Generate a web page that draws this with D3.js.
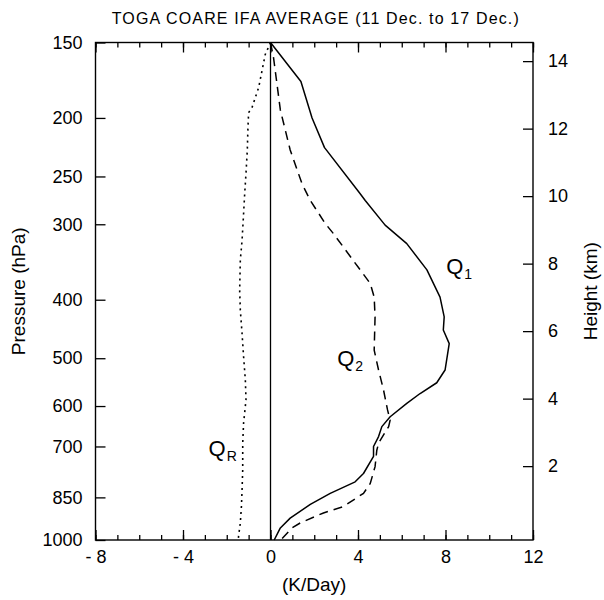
<!DOCTYPE html>
<html>
<head>
<meta charset="utf-8">
<script src="https://cdn.jsdelivr.net/npm/d3@7"></script>
<style>
  body { margin: 0; background: #fff; }
  svg { display: block; }
  text { font-family: "Liberation Sans", Arial, Helvetica, sans-serif; fill: #000; }
</style>
</head>
<body>
<svg id="chart" width="604" height="600"></svg>
<script>
// Axis tick values
const pressureTicks = [150, 200, 250, 300, 400, 500, 600, 700, 850, 1000];
const heightTicks = [2, 4, 6, 8, 10, 12, 14];
const rateTicks = [-8, -4, 0, 4, 8, 12];
const rateMinorTicks = d3.range(-8, 13, 1);

// Q1: apparent heat source (K/day) against pressure (hPa)
const q1Pressure = [150, 174, 200, 224, 267, 274, 301, 323, 357, 396, 427, 449, 473, 523, 549, 572, 594, 625, 649, 674, 700, 727, 776, 801, 837, 873, 920, 955, 1000];
const q1Rate     = [0, 1.39, 1.9, 2.47, 4.1, 4.33, 5.24, 6.23, 7.15, 7.75, 7.94, 7.9, 8.17, 7.98, 7.6, 6.84, 6.23, 5.47, 5.09, 4.94, 4.71, 4.71, 4.25, 3.87, 2.73, 1.82, 0.9, 0.45, 0.17];

// Q2: apparent moisture sink (K/day)
const q2Pressure = [150, 159, 194, 226, 257, 274, 299, 311, 357, 376, 396, 427, 485, 523, 565, 609, 633, 649, 690, 710, 756, 806, 837, 880, 902, 937, 955, 1000];
const q2Rate     = [0, 0.14, 0.45, 0.9, 1.44, 1.82, 2.5, 2.88, 4.1, 4.56, 4.74, 4.78, 4.74, 4.94, 5.17, 5.35, 5.47, 5.4, 4.95, 4.86, 4.78, 4.56, 4.25, 3.34, 2.42, 1.36, 0.98, 0.47];

// QR: radiative heating (K/day)
const qrPressure = [150, 157, 178, 192, 196, 207, 226, 247, 267, 288, 319, 344, 386, 416, 455, 497, 543, 586, 640, 691, 765, 826, 881, 937, 986, 995];
const qrRate     = [0, -0.24, -0.54, -0.84, -1.0, -1.03, -1.06, -1.12, -1.18, -1.23, -1.3, -1.38, -1.41, -1.38, -1.3, -1.23, -1.15, -1.12, -1.23, -1.27, -1.27, -1.3, -1.33, -1.38, -1.46, -1.47];

// Curve labels: name, subscript, anchor rate (K/day), anchor pressure (hPa)
const labelNames = ["Q", "Q", "Q"];
const labelSubs = ["1", "2", "R"];
const labelRate = [8.03, 3.05, -2.83];
const labelPressure = [362, 515, 726];

// Scale-height conversion for the right-hand height axis
const scaleHeightKm = 7.77;
const surfacePressure = 976;

const svg = d3.select("#chart");
const margin = { left: 95.5, right: 533, top: 42.5, bottom: 540 };

const x = d3.scaleLinear().domain([-8, 12]).range([margin.left, margin.right]);
const y = d3.scaleLog().domain([150, 1000]).range([margin.top, margin.bottom]);
const zOf = p => scaleHeightKm * Math.log(surfacePressure / p);
const yHeight = d3.scaleLinear().domain([zOf(1000), zOf(150)]).range([margin.bottom, margin.top]);

const axisStyle = g => {
  g.select(".domain").remove();
  g.selectAll(".tick line").attr("stroke", "#000").attr("stroke-width", 1.3);
  g.selectAll(".tick text").attr("font-size", 18).attr("fill", "#000")
    .attr("font-family", '"Liberation Sans", Arial, sans-serif');
};

// Bottom axis: minor ticks every unit, longer labelled ticks every 4
svg.append("g").attr("transform", `translate(0,${margin.bottom})`)
  .call(d3.axisBottom(x).tickValues(rateMinorTicks).tickSize(-5).tickFormat(""))
  .call(axisStyle);
svg.append("g").attr("transform", `translate(0,${margin.bottom})`)
  .call(d3.axisBottom(x).tickValues(rateTicks).tickSizeInner(-10).tickSizeOuter(0).tickPadding(10)
    .tickFormat(d => d < 0 ? "- " + Math.abs(d) : String(d)))
  .call(axisStyle)
  .call(g => g.selectAll(".tick text").attr("dy", "0.71em"));

// Top axis mirrors the bottom ticks
svg.append("g").attr("transform", `translate(0,${margin.top})`)
  .call(d3.axisTop(x).tickValues(rateMinorTicks).tickSize(-5).tickFormat(""))
  .call(axisStyle);
svg.append("g").attr("transform", `translate(0,${margin.top})`)
  .call(d3.axisTop(x).tickValues(rateTicks).tickSize(-10).tickFormat(""))
  .call(axisStyle);

// Left pressure axis
svg.append("g").attr("transform", `translate(${margin.left},0)`)
  .call(d3.axisLeft(y).tickValues(pressureTicks).tickSizeInner(-10).tickSizeOuter(0).tickPadding(13)
    .tickFormat(d3.format("d")))
  .call(axisStyle);

// Right height axis
svg.append("g").attr("transform", `translate(${margin.right},0)`)
  .call(d3.axisRight(yHeight).tickValues(heightTicks).tickSizeInner(-10).tickSizeOuter(0).tickPadding(15)
    .tickFormat(d3.format("d")))
  .call(axisStyle);

// Frame
svg.append("rect")
  .attr("x", margin.left).attr("y", margin.top)
  .attr("width", margin.right - margin.left).attr("height", margin.bottom - margin.top)
  .attr("fill", "none").attr("stroke", "#000").attr("stroke-width", 1.4);

// Zero line
svg.append("line")
  .attr("x1", x(0)).attr("x2", x(0))
  .attr("y1", y(150)).attr("y2", y(1000))
  .attr("stroke", "#000").attr("stroke-width", 1.3);

const line = d3.line().x(d => x(d[1])).y(d => y(d[0]));
const profile = (ps, vs) => ps.map((p, i) => [p, vs[i]]);

svg.append("path").datum(profile(q1Pressure, q1Rate))
  .attr("d", line).attr("fill", "none").attr("stroke", "#000").attr("stroke-width", 1.5)
  .attr("stroke-linejoin", "round");
svg.append("path").datum(profile(q2Pressure, q2Rate))
  .attr("d", line).attr("fill", "none").attr("stroke", "#000").attr("stroke-width", 1.5)
  .attr("stroke-dasharray", "9,6");
svg.append("path").datum(profile(qrPressure, qrRate))
  .attr("d", line).attr("fill", "none").attr("stroke", "#000").attr("stroke-width", 1.6)
  .attr("stroke-dasharray", "2,4");

// Curve labels with subscripts
labelNames.forEach((name, i) => {
  const t = svg.append("text")
    .attr("x", x(labelRate[i])).attr("y", y(labelPressure[i]))
    .attr("font-size", 22);
  t.append("tspan").text(name);
  t.append("tspan").attr("font-size", 14).attr("dx", 1).attr("dy", 5).text(labelSubs[i]);
});

// Title and axis titles
svg.append("text").attr("x", (margin.left + margin.right) / 2 + 1).attr("y", 24).attr("font-size", 16)
  .attr("text-anchor", "middle")
  .attr("font-family", '"DejaVu Sans", sans-serif')
  .attr("textLength", 407).attr("lengthAdjust", "spacing")
  .text("TOGA COARE IFA AVERAGE (11 Dec. to 17 Dec.)");

svg.append("text").attr("x", (margin.left + margin.right) / 2).attr("y", 591)
  .attr("text-anchor", "middle").attr("font-size", 19).text("(K/Day)");

svg.append("text")
  .attr("transform", `translate(25,${(margin.top + margin.bottom) / 2}) rotate(-90)`)
  .attr("text-anchor", "middle").attr("font-size", 19).text("Pressure (hPa)");

svg.append("text")
  .attr("transform", `translate(597,${(margin.top + margin.bottom) / 2}) rotate(-90)`)
  .attr("text-anchor", "middle").attr("font-size", 19).text("Height (km)");
</script>
</body>
</html>
